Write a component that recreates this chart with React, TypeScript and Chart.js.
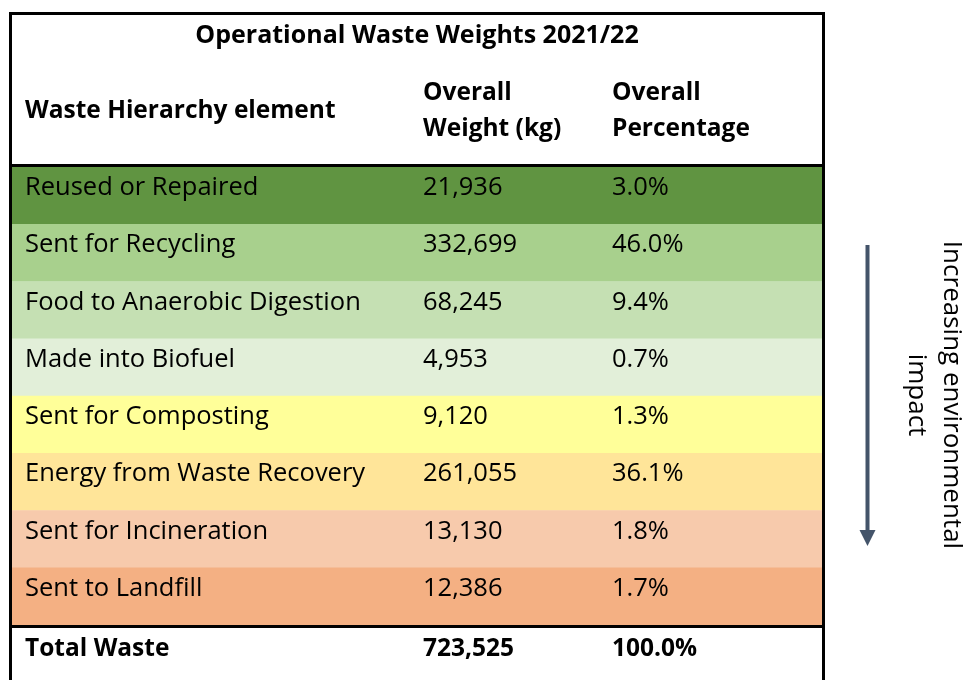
import React, { useEffect, useRef } from 'react';
import { Chart, registerables } from 'chart.js';

Chart.register(...registerables);

const title = 'Operational Waste Weights 2021/22';
const headerElement = 'Waste Hierarchy element';
const headerWeight = ['Overall', 'Weight (kg)'];
const headerPercentage = ['Overall', 'Percentage'];
const categories = [
  'Reused or Repaired',
  'Sent for Recycling',
  'Food to Anaerobic Digestion',
  'Made into Biofuel',
  'Sent for Composting',
  'Energy from Waste Recovery',
  'Sent for Incineration',
  'Sent to Landfill',
];
const weights = [21936, 332699, 68245, 4953, 9120, 261055, 13130, 12386];
const percentages = [3.0, 46.0, 9.4, 0.7, 1.3, 36.1, 1.8, 1.7];
const rowColors = ['#609441', '#A8D08D', '#C5E0B3', '#E2EFD9', '#FFFF99', '#FFE599', '#F7CAAC', '#F4B083'];
const totalLabel = 'Total Waste';
const totalWeight = 723525;
const totalPercentage = 100.0;
const sideNote = ['Increasing environmental', 'impact'];

const FONT = '"Open Sans", "Noto Sans", sans-serif';

const fmtW = (v: number) => v.toLocaleString('en-US');
const fmtP = (v: number) => v.toFixed(1) + '%';

const tablePlugin = {
  id: 'tableOverlay',
  afterDatasetsDraw(chart: any) {
    const { ctx, chartArea } = chart;
    const left = chartArea.left;
    const right = chartArea.right;
    const top = chartArea.top;
    const bottom = chartArea.bottom;
    const meta = chart.getDatasetMeta(0);
    const cols = [left + 13, left + 411, left + 600];
    ctx.save();
    ctx.fillStyle = '#000';
    ctx.textAlign = 'left';
    ctx.textBaseline = 'alphabetic';

    // body rows
    ctx.font = `25.5px ${FONT}`;
    meta.data.forEach((bar: any, i: number) => {
      const rowTop = bar.y - bar.height / 2;
      const base = rowTop + 28;
      ctx.fillText(categories[i], cols[0], base);
      ctx.fillText(fmtW(weights[i]), cols[1], base);
      ctx.fillText(fmtP(percentages[i]), cols[2], base);
    });

    // title & header
    ctx.font = `bold 25px ${FONT}`;
    ctx.textAlign = 'center';
    ctx.fillText(title, (left + right) / 2, top - 124);
    ctx.textAlign = 'left';
    ctx.font = `bold 24.5px ${FONT}`;
    ctx.fillText(headerElement, cols[0], top - 49);
    ctx.fillText(headerWeight[0], cols[1], top - 67);
    ctx.fillText(headerWeight[1], cols[1], top - 31);
    ctx.fillText(headerPercentage[0], cols[2], top - 67);
    ctx.fillText(headerPercentage[1], cols[2], top - 31);

    // total row
    ctx.fillText(totalLabel, cols[0], bottom + 31);
    ctx.fillText(fmtW(totalWeight), cols[1], bottom + 31);
    ctx.fillText(fmtP(totalPercentage), cols[2], bottom + 31);

    // borders
    ctx.strokeStyle = '#000';
    ctx.lineWidth = 3;
    ctx.beginPath();
    ctx.moveTo(left - 1.5, chart.height);
    ctx.lineTo(left - 1.5, 13.5);
    ctx.lineTo(right + 1.5, 13.5);
    ctx.lineTo(right + 1.5, chart.height);
    ctx.moveTo(left - 3, top - 1.5);
    ctx.lineTo(right + 3, top - 1.5);
    ctx.moveTo(left - 3, bottom + 1.5);
    ctx.lineTo(right + 3, bottom + 1.5);
    ctx.stroke();

    // arrow
    const ax = 867.5;
    ctx.strokeStyle = '#44546A';
    ctx.fillStyle = '#44546A';
    ctx.lineWidth = 4;
    ctx.beginPath();
    ctx.moveTo(ax, 245);
    ctx.lineTo(ax, 532);
    ctx.stroke();
    ctx.beginPath();
    ctx.moveTo(ax - 8, 530);
    ctx.lineTo(ax + 8, 530);
    ctx.lineTo(ax, 546);
    ctx.closePath();
    ctx.fill();

    // rotated note
    ctx.fillStyle = '#000';
    ctx.font = `26px ${FONT}`;
    ctx.textAlign = 'center';
    ctx.textBaseline = 'alphabetic';
    const notes = [
      { x: 944, text: sideNote[0] },
      { x: 909, text: sideNote[1] },
    ];
    notes.forEach((n) => {
      ctx.save();
      ctx.translate(n.x, 395);
      ctx.rotate(Math.PI / 2);
      ctx.fillText(n.text, 0, 0);
      ctx.restore();
    });
    ctx.restore();
  },
};

export default function App() {
  const ref = useRef<HTMLCanvasElement | null>(null);
  useEffect(() => {
    if (!ref.current) return;
    const chart = new Chart(ref.current, {
      type: 'bar',
      data: {
        labels: categories,
        datasets: [
          {
            data: categories.map(() => [0, 1]) as any,
            backgroundColor: rowColors,
            borderWidth: 0,
            barPercentage: 1,
            categoryPercentage: 1,
          },
        ],
      },
      options: {
        indexAxis: 'y',
        animation: false,
        responsive: false,
        maintainAspectRatio: false,
        layout: { padding: { left: 12, right: 144, top: 167, bottom: 55 } },
        plugins: { legend: { display: false }, tooltip: { enabled: false }, title: { display: false } },
        scales: {
          x: { display: false, min: 0, max: 1 },
          y: { display: false },
        },
      },
      plugins: [tablePlugin],
    });
    return () => chart.destroy();
  }, []);
  return (
    <div style={{ position: 'fixed', left: 0, top: 0, width: 966, height: 680, background: '#fff' }}>
      <canvas ref={ref} width={966} height={680} style={{ display: 'block', width: 966, height: 680 }} />
    </div>
  );
}
